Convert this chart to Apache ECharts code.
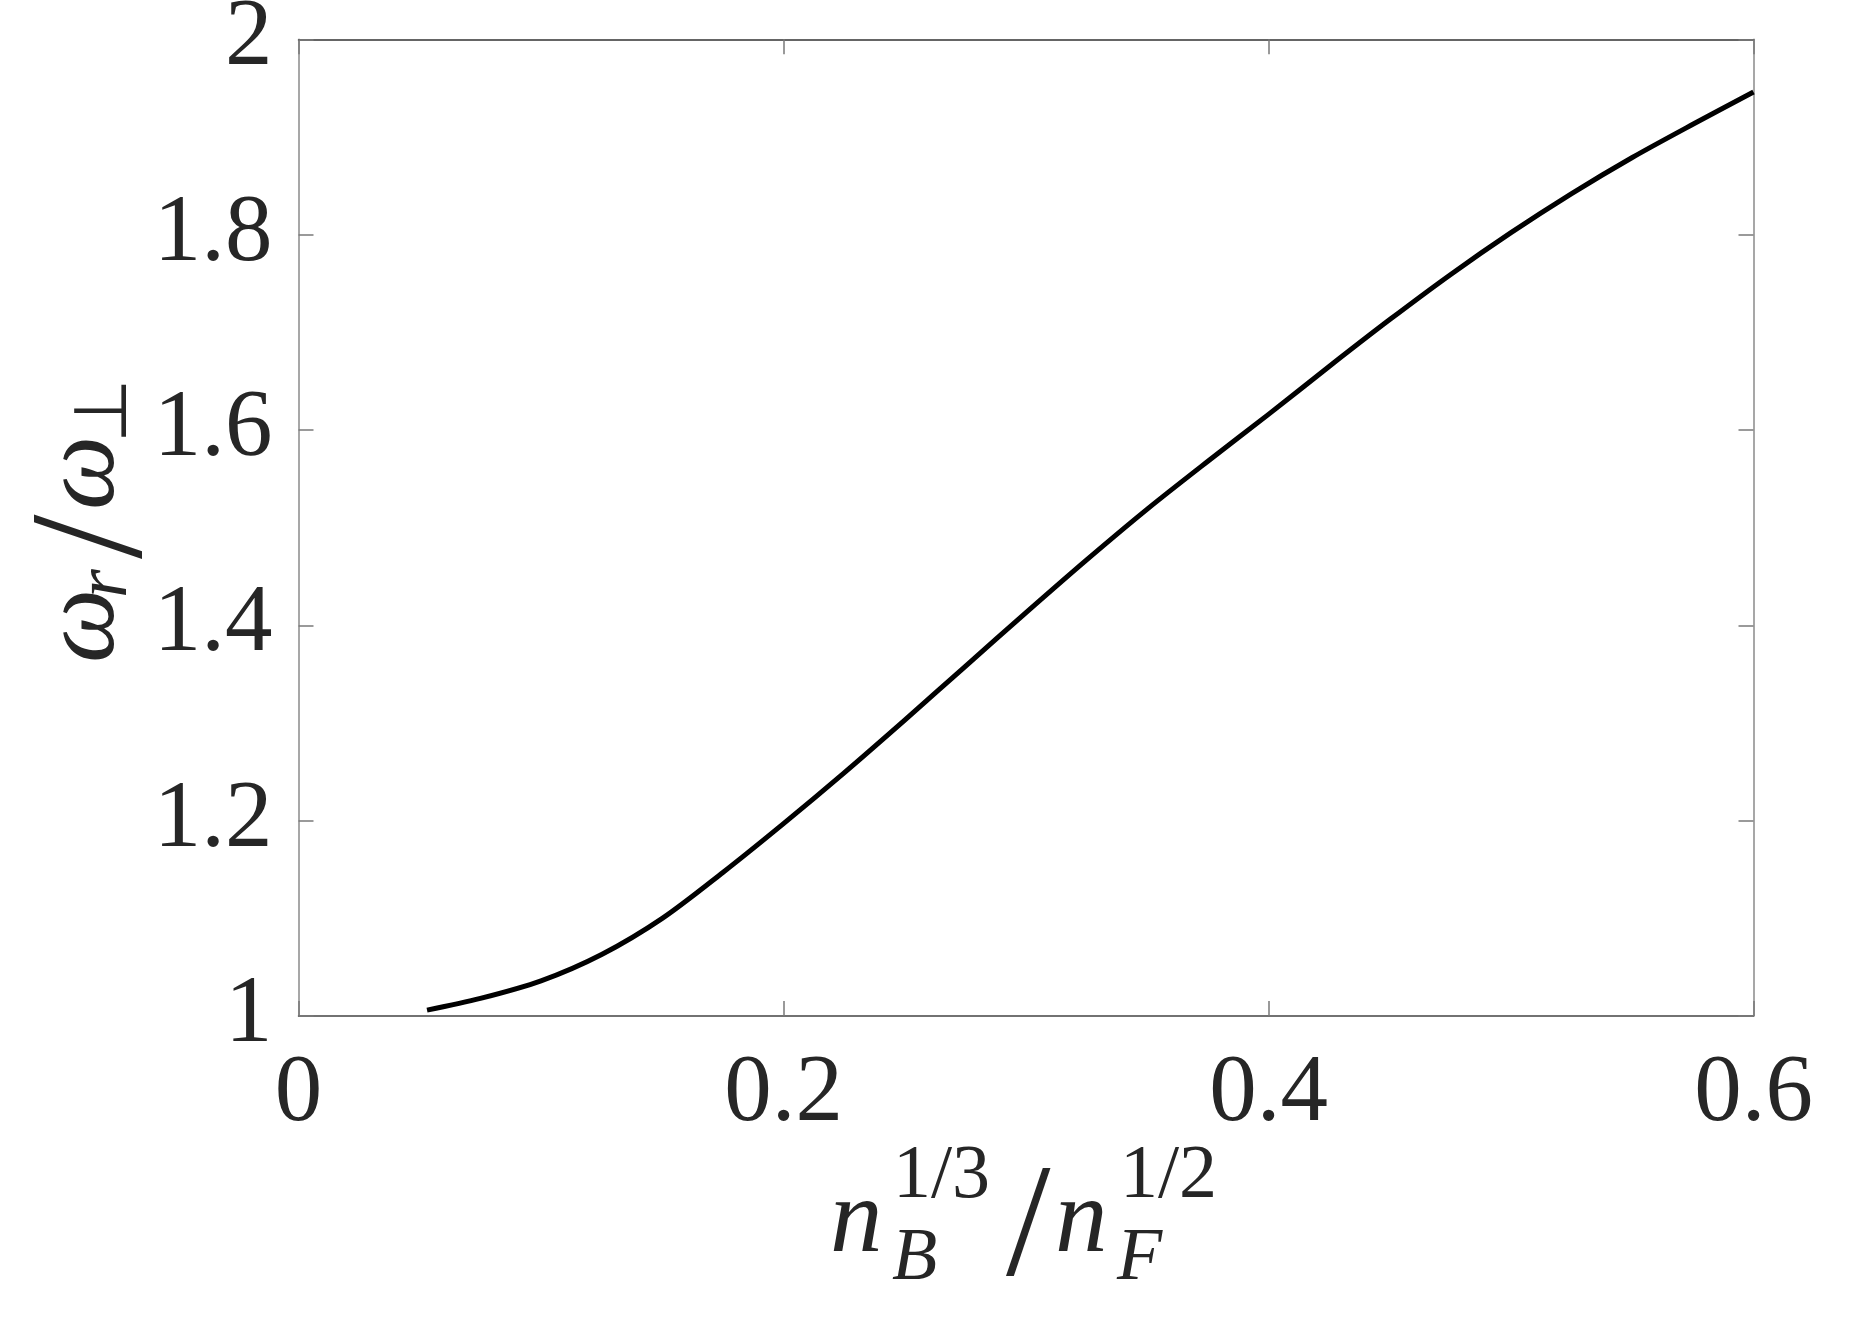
<!DOCTYPE html>
<html>
<head>
<meta charset="utf-8">
<title>omega_r / omega_perp</title>
<script src="https://cdn.jsdelivr.net/npm/echarts@6/dist/echarts.min.js"></script>
<style>
  html, body { margin: 0; padding: 0; background: #fff; }
  #chart { width: 1867px; height: 1319px; }
</style>
</head>
<body>
<div id="chart"></div>
<script>
// n_B^{1/3} / n_F^{1/2}
var densityRatio = [0.053, 0.075, 0.1, 0.125, 0.15, 0.175, 0.2, 0.225, 0.25, 0.275,
  0.3, 0.325, 0.35, 0.375, 0.4, 0.425, 0.45, 0.475, 0.5, 0.525, 0.55, 0.575, 0.6]
// omega_r / omega_perp
var omegaRatio = [1.006, 1.018, 1.036, 1.063, 1.100, 1.147, 1.197, 1.249, 1.303, 1.358,
  1.413, 1.467, 1.519, 1.568, 1.616, 1.665, 1.713, 1.759, 1.802, 1.842, 1.879, 1.913, 1.946]
var xTicks = [0, 0.2, 0.4, 0.6]
var yTicks = [1, 1.2, 1.4, 1.6, 1.8, 2]

var serif = 'Liberation Serif, Times New Roman, serif'
var ink = '#262626'

// one piece of an axis title
function txt (text, x, y, size, italic) {
  return {
    type: 'text',
    x: x,
    y: y,
    style: {
      text: text,
      fontFamily: serif,
      fontSize: size,
      fontStyle: italic ? 'italic' : 'normal',
      fill: ink,
      align: 'left',
      verticalAlign: 'middle'
    }
  }
}

var chart = echarts.init(document.getElementById('chart'))

var points = densityRatio.map(function (x, i) { return [x, omegaRatio[i]] })

var tickStyle = { show: true, inside: true, length: 15, lineStyle: { color: '#7a7a7a', width: 1.5 } }

var option = {
  backgroundColor: '#ffffff',
  animation: false,
  grid: {
    left: 298.5,
    top: 39.3,
    right: 113.5,
    bottom: 303,
    containLabel: false,
    outerBoundsMode: 'none'
  },
  xAxis: [{
    type: 'value',
    position: 'bottom',
    min: xTicks[0],
    max: xTicks[xTicks.length - 1],
    interval: 0.2,
    splitLine: { show: false },
    axisLine: { show: true, onZero: false, lineStyle: { color: '#444', width: 1.5 } },
    axisTick: tickStyle,
    axisLabel: {
      margin: 32,
      color: ink,
      fontFamily: serif,
      fontSize: 95,
      showMinLabel: true,
      showMaxLabel: true
    }
  }, {
    type: 'value',
    position: 'top',
    min: xTicks[0],
    max: xTicks[xTicks.length - 1],
    interval: 0.2,
    splitLine: { show: false },
    axisLabel: { show: false },
    axisTick: tickStyle,
    axisLine: { show: true, onZero: false, lineStyle: { color: '#333', width: 1.5 } }
  }],
  yAxis: [{
    type: 'value',
    position: 'left',
    min: yTicks[0],
    max: yTicks[yTicks.length - 1],
    interval: 0.2,
    splitLine: { show: false },
    axisLine: { show: true, onZero: false, lineStyle: { color: '#8a8a8a', width: 1.5 } },
    axisTick: tickStyle,
    axisLabel: {
      margin: 26,
      color: ink,
      fontFamily: serif,
      fontSize: 95,
      showMinLabel: true,
      showMaxLabel: true
    }
  }, {
    type: 'value',
    position: 'right',
    min: yTicks[0],
    max: yTicks[yTicks.length - 1],
    interval: 0.2,
    splitLine: { show: false },
    axisLabel: { show: false },
    axisTick: tickStyle,
    axisLine: { show: true, onZero: false, lineStyle: { color: '#8a8a8a', width: 1.5 } }
  }],
  series: [{
    type: 'line',
    xAxisIndex: 0,
    yAxisIndex: 0,
    data: points,
    showSymbol: false,
    smooth: 0.3,
    lineStyle: { color: '#000', width: 5, cap: 'butt', join: 'round' }
  }],
  graphic: [
    {
      // x title: n_B^{1/3} / n_F^{1/2}
      type: 'group',
      x: 828,
      y: 1255,
      children: [
        txt('n', 2, -32, 105, true),
        txt('B', 64, 5, 74, true),
        txt('1/3', 65, -78, 76, false),
        txt('/', 178, -23, 160, false),
        txt('n', 227, -32, 105, true),
        txt('F', 289, 5, 74, true),
        txt('1/2', 292, -78, 76, false)
      ]
    },
    {
      // y title: omega_r / omega_perp, reading upward
      type: 'group',
      x: 117,
      y: 663,
      rotation: Math.PI / 2,
      children: [
        txt('ω', 0, -32, 105, true),
        txt('r', 65, -10, 74, true),
        txt('/', 104, -19, 160, false),
        txt('ω', 153, -32, 105, true),
        txt('⊥', 220, -10, 74, false)
      ]
    }
  ]
}

chart.setOption(option)
</script>
</body>
</html>
